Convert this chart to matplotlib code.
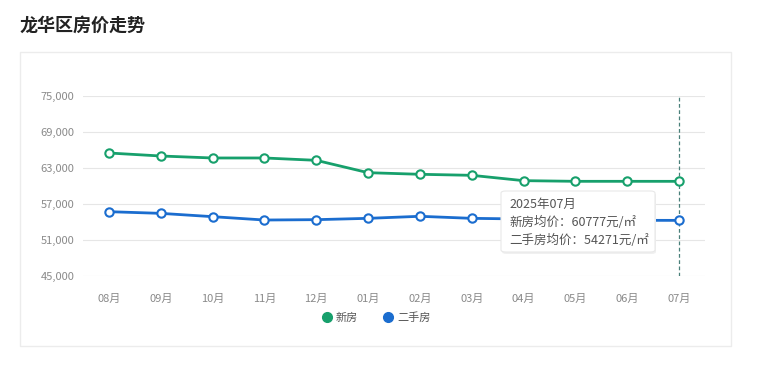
import matplotlib
matplotlib.use('Agg')
import matplotlib.pyplot as plt
from matplotlib.patches import Rectangle, FancyBboxPatch
from matplotlib.lines import Line2D
from matplotlib.ticker import FuncFormatter

plt.rcParams['font.family'] = ['Noto Sans CJK SC', 'DejaVu Sans']

# data
months = ['08月', '09月', '10月', '11月', '12月', '01月', '02月', '03月', '04月', '05月', '06月', '07月']
new_price = [65500, 65000, 64670, 64670, 64280, 62220, 61950, 61780, 60890, 60780, 60780, 60777]
used_price = [55720, 55440, 54890, 54330, 54390, 54610, 54950, 54610, 54500, 54300, 54280, 54271]
y_ticks = [45000, 51000, 57000, 63000, 69000, 75000]
title = '龙华区房价走势'
tip_title = '2025年07月'

green = '#17a06c'
blue = '#1b6dcf'
W, H = 758, 365

fig = plt.figure(figsize=(W / 100, H / 100), dpi=100)
fig.patch.set_facecolor('white')

# card border
fig.patches.append(Rectangle((20 / W, 1 - 346 / H), 711 / W, 294 / H, transform=fig.transFigure,
                             facecolor='white', edgecolor='#ececec', linewidth=1, zorder=-5))

fig.text(20 / W, 1 - 25 / H, title, fontsize=13, fontweight='bold', color='#222222', va='center')

ax = fig.add_axes([83 / W, 1 - 276 / H, 622 / W, 180 / H])
ax.set_facecolor('none')
x = list(range(len(months)))
ax.set_xlim(-0.5, len(months) - 0.5)
ax.set_ylim(45000, 75000)
ax.set_yticks(y_ticks)
ax.yaxis.set_major_formatter(FuncFormatter(lambda v, p: f'{int(v):,}'))
ax.set_xticks(x)
ax.set_xticklabels(months)
ax.grid(axis='y', color='#e6e6e6', linewidth=0.8)
ax.set_axisbelow(True)
for s in ax.spines.values():
    s.set_visible(False)
ax.tick_params(axis='both', length=0, labelsize=8, colors='#8a8a8a')
ax.tick_params(axis='x', pad=13)
ax.tick_params(axis='y', pad=6)

# hover line at the last month
ax.axvline(x[-1], color='#4a807a', linestyle=(0, (3, 2)), linewidth=0.9, zorder=1)

ax.plot(x, new_price, color=green, linewidth=2, marker='o', markersize=6,
        markerfacecolor='white', markeredgecolor=green, markeredgewidth=1.5, zorder=3)
ax.plot(x, used_price, color=blue, linewidth=2, marker='o', markersize=6,
        markerfacecolor='white', markeredgecolor=blue, markeredgewidth=1.5, zorder=3)

# tooltip with a faint shadow
shadow = FancyBboxPatch((502 / W, 1 - 254 / H), 154 / W, 61 / H, transform=fig.transFigure,
                        boxstyle='round,pad=0,rounding_size=0.006', facecolor='#f0f0f0',
                        edgecolor='none', zorder=4)
tip = FancyBboxPatch((501 / W, 1 - 252 / H), 154 / W, 61 / H, transform=fig.transFigure,
                     boxstyle='round,pad=0,rounding_size=0.006', facecolor='white',
                     edgecolor='#e8e8e8', linewidth=0.8, zorder=5)
fig.patches.extend([shadow, tip])
tip_lines = [tip_title,
             f'新房均价：{new_price[-1]}元/㎡',
             f'二手房均价：{used_price[-1]}元/㎡']
for i, t in enumerate(tip_lines):
    fig.text(509 / W, 1 - (204 + 18 * i) / H, t, fontsize=9, color='#555555', va='center', zorder=6)

# legend
handles = [Line2D([], [], linestyle='none', marker='o', markersize=7, color=green),
           Line2D([], [], linestyle='none', marker='o', markersize=7, color=blue)]
fig.legend(handles, ['新房', '二手房'], loc='center', bbox_to_anchor=(376 / W, 1 - 318 / H),
           ncol=2, frameon=False, fontsize=8, handletextpad=0.3, columnspacing=2.2,
           labelcolor='#555555', handlelength=1.0)

fig.savefig('out.png', dpi=100, facecolor='white')
